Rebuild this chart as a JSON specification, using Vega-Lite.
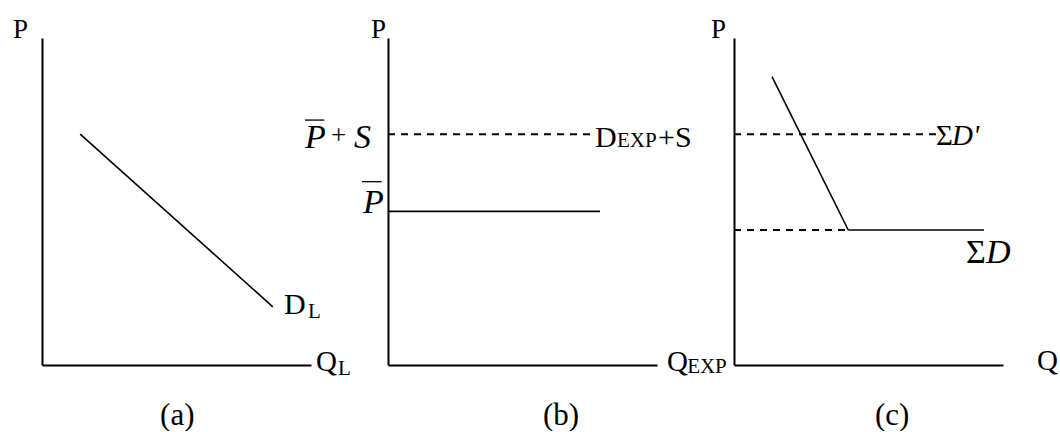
{
  "$schema": "https://vega.github.io/schema/vega-lite/v6.json",
  "background": "white",
  "padding": {"left": 12, "top": 16, "right": 0, "bottom": 0},
  "spacing": 77,
  "bounds": "flush",
  "config": {
    "view": {"stroke": null},
    "axis": {
      "labels": false,
      "ticks": false,
      "grid": false,
      "domainColor": "black",
      "domainWidth": 2,
      "minExtent": 0
    },
    "text": {"font": "Liberation Serif", "fill": "black", "align": "left", "baseline": "alphabetic"},
    "rule": {"color": "black"}
  },
  "datasets": {
    "curves": [
      {"panel": "a", "q": 1.42, "p": 7.06, "q2": 8.58, "p2": 1.78},
      {"panel": "b", "q": 0, "p": 4.7, "q2": 7.88, "p2": 4.7},
      {"panel": "c", "q": 1.413, "p": 8.817, "q2": 4.247, "p2": 4.128},
      {"panel": "c", "q": 4.247, "p": 4.128, "q2": 9.294, "p2": 4.128}
    ],
    "guides": [
      {"panel": "b", "q": 0, "p": 7.06, "q2": 7.55, "p2": 7.06},
      {"panel": "c", "q": 0, "p": 7.06, "q2": 7.51, "p2": 7.06},
      {"panel": "c", "q": 0, "p": 4.128, "q2": 4.247, "p2": 4.128}
    ],
    "bars": [
      {"panel": "b", "q": -3.086, "q2": -2.368, "p": 7.49},
      {"panel": "b", "q": -0.967, "q2": -0.235, "p": 5.606}
    ],
    "labels": [
      {"panel": "a", "q": -1.08, "p": 10, "text": "P", "role": "price"},
      {"panel": "a", "q": 10.19, "p": -0.18, "text": "Q", "role": "quantity"},
      {"panel": "a", "q": 11.0, "p": -0.31, "text": "L", "role": "subscript"},
      {"panel": "a", "q": 9.0, "p": 1.56, "text": "D", "role": "curve"},
      {"panel": "a", "q": 9.89, "p": 1.44, "text": "L", "role": "subscript"},
      {"panel": "a", "q": 4.39, "p": -1.82, "text": "(a)", "role": "caption"},
      {"panel": "b", "q": -0.632, "p": 10, "text": "P", "role": "price"},
      {"panel": "b", "q": 7.695, "p": 6.676, "text": "D", "role": "curve"},
      {"panel": "b", "q": 8.513, "p": 6.676, "text": "EXP", "role": "smallcap"},
      {"panel": "b", "q": 10.04, "p": 6.676, "text": "+S", "role": "curve"},
      {"panel": "b", "q": 10.37, "p": -0.18, "text": "Q", "role": "quantity"},
      {"panel": "b", "q": 11.12, "p": -0.245, "text": "EXP", "role": "smallcap"},
      {"panel": "b", "q": 5.76, "p": -1.82, "text": "(b)", "role": "caption"},
      {"panel": "b", "q": -2.12, "p": 6.75, "text": "+", "role": "operator"},
      {"panel": "c", "q": -0.855, "p": 10, "text": "P", "role": "price"},
      {"panel": "c", "q": 11.26, "p": -0.15, "text": "Q", "role": "quantity"},
      {"panel": "c", "q": 5.24, "p": -1.82, "text": "(c)", "role": "caption"},
      {"panel": "c", "q": 7.51, "p": 6.728, "text": "Σ", "role": "shifted"},
      {"panel": "c", "q": 8.625, "p": 3.11, "text": "Σ", "role": "sum"}
    ],
    "math": [
      {"panel": "b", "q": -3.09, "p": 6.636, "text": "P", "role": "level"},
      {"panel": "b", "q": -1.264, "p": 6.636, "text": "S", "role": "level"},
      {"panel": "b", "q": -0.929, "p": 4.648, "text": "P", "role": "level"},
      {"panel": "c", "q": 8.104, "p": 6.728, "text": "D'", "role": "shifted"},
      {"panel": "c", "q": 9.368, "p": 3.11, "text": "D", "role": "sum"}
    ]
  },
  "hconcat": [
    {
      "width": 269,
      "height": 327,
      "encoding": {
        "x": {"field": "q", "type": "quantitative", "scale": {"domain": [0, 10]}, "title": null},
        "y": {"field": "p", "type": "quantitative", "scale": {"domain": [0, 10]}, "title": null}
      },
      "layer": [
        {
          "data": {"name": "curves"},
          "transform": [{"filter": "datum.panel == 'a'"}],
          "mark": {"type": "rule", "strokeWidth": 1.6},
          "encoding": {"x2": {"field": "q2"}, "y2": {"field": "p2"}}
        },
        {
          "data": {"name": "labels"},
          "transform": [{"filter": "datum.panel == 'a' && datum.role == 'price'"}],
          "mark": {"type": "text", "fontSize": 27},
          "encoding": {"text": {"field": "text"}}
        },
        {
          "data": {"name": "labels"},
          "transform": [{"filter": "datum.panel == 'a' && datum.role == 'quantity'"}],
          "mark": {"type": "text", "fontSize": 29},
          "encoding": {"text": {"field": "text"}}
        },
        {
          "data": {"name": "labels"},
          "transform": [{"filter": "datum.panel == 'a' && datum.role == 'curve'"}],
          "mark": {"type": "text", "fontSize": 30},
          "encoding": {"text": {"field": "text"}}
        },
        {
          "data": {"name": "labels"},
          "transform": [{"filter": "datum.panel == 'a' && datum.role == 'subscript'"}],
          "mark": {"type": "text", "fontSize": 21},
          "encoding": {"text": {"field": "text"}}
        },
        {
          "data": {"name": "labels"},
          "transform": [{"filter": "datum.panel == 'a' && datum.role == 'caption'"}],
          "mark": {"type": "text", "fontSize": 31},
          "encoding": {"text": {"field": "text"}}
        }
      ]
    },
    {
      "width": 269,
      "height": 327,
      "encoding": {
        "x": {"field": "q", "type": "quantitative", "scale": {"domain": [0, 10]}, "title": null},
        "y": {"field": "p", "type": "quantitative", "scale": {"domain": [0, 10]}, "title": null}
      },
      "layer": [
        {
          "data": {"name": "curves"},
          "transform": [{"filter": "datum.panel == 'b'"}],
          "mark": {"type": "rule", "strokeWidth": 1.7},
          "encoding": {"x2": {"field": "q2"}, "y2": {"field": "p2"}}
        },
        {
          "data": {"name": "guides"},
          "transform": [{"filter": "datum.panel == 'b'"}],
          "mark": {"type": "rule", "strokeWidth": 2, "strokeDash": [7, 6]},
          "encoding": {"x2": {"field": "q2"}, "y2": {"field": "p2"}}
        },
        {
          "data": {"name": "bars"},
          "transform": [{"filter": "datum.panel == 'b'"}],
          "mark": {"type": "rule", "strokeWidth": 1.3},
          "encoding": {"x2": {"field": "q2"}}
        },
        {
          "data": {"name": "labels"},
          "transform": [{"filter": "datum.panel == 'b' && datum.role == 'price'"}],
          "mark": {"type": "text", "fontSize": 27},
          "encoding": {"text": {"field": "text"}}
        },
        {
          "data": {"name": "labels"},
          "transform": [{"filter": "datum.panel == 'b' && datum.role == 'quantity'"}],
          "mark": {"type": "text", "fontSize": 29},
          "encoding": {"text": {"field": "text"}}
        },
        {
          "data": {"name": "labels"},
          "transform": [{"filter": "datum.panel == 'b' && datum.role == 'curve'"}],
          "mark": {"type": "text", "fontSize": 30},
          "encoding": {"text": {"field": "text"}}
        },
        {
          "data": {"name": "labels"},
          "transform": [{"filter": "datum.panel == 'b' && datum.role == 'smallcap'"}],
          "mark": {"type": "text", "fontSize": 21},
          "encoding": {"text": {"field": "text"}}
        },
        {
          "data": {"name": "labels"},
          "transform": [{"filter": "datum.panel == 'b' && datum.role == 'operator'"}],
          "mark": {"type": "text", "fontSize": 27},
          "encoding": {"text": {"field": "text"}}
        },
        {
          "data": {"name": "labels"},
          "transform": [{"filter": "datum.panel == 'b' && datum.role == 'caption'"}],
          "mark": {"type": "text", "fontSize": 31},
          "encoding": {"text": {"field": "text"}}
        },
        {
          "data": {"name": "math"},
          "transform": [{"filter": "datum.panel == 'b'"}],
          "mark": {"type": "text", "fontSize": 34, "fontStyle": "italic"},
          "encoding": {"text": {"field": "text"}}
        }
      ]
    },
    {
      "width": 269,
      "height": 327,
      "encoding": {
        "x": {"field": "q", "type": "quantitative", "scale": {"domain": [0, 10]}, "title": null},
        "y": {"field": "p", "type": "quantitative", "scale": {"domain": [0, 10]}, "title": null}
      },
      "layer": [
        {
          "data": {"name": "curves"},
          "transform": [{"filter": "datum.panel == 'c'"}],
          "mark": {"type": "rule", "strokeWidth": 1.6},
          "encoding": {"x2": {"field": "q2"}, "y2": {"field": "p2"}}
        },
        {
          "data": {"name": "guides"},
          "transform": [{"filter": "datum.panel == 'c'"}],
          "mark": {"type": "rule", "strokeWidth": 2, "strokeDash": [7, 6]},
          "encoding": {"x2": {"field": "q2"}, "y2": {"field": "p2"}}
        },
        {
          "data": {"name": "labels"},
          "transform": [{"filter": "datum.panel == 'c' && datum.role == 'price'"}],
          "mark": {"type": "text", "fontSize": 27},
          "encoding": {"text": {"field": "text"}}
        },
        {
          "data": {"name": "labels"},
          "transform": [{"filter": "datum.panel == 'c' && datum.role == 'quantity'"}],
          "mark": {"type": "text", "fontSize": 29},
          "encoding": {"text": {"field": "text"}}
        },
        {
          "data": {"name": "labels"},
          "transform": [{"filter": "datum.panel == 'c' && datum.role == 'caption'"}],
          "mark": {"type": "text", "fontSize": 31},
          "encoding": {"text": {"field": "text"}}
        },
        {
          "data": {"name": "labels"},
          "transform": [{"filter": "datum.panel == 'c' && datum.role == 'shifted'"}],
          "mark": {"type": "text", "fontSize": 29},
          "encoding": {"text": {"field": "text"}}
        },
        {
          "data": {"name": "labels"},
          "transform": [{"filter": "datum.panel == 'c' && datum.role == 'sum'"}],
          "mark": {"type": "text", "fontSize": 34},
          "encoding": {"text": {"field": "text"}}
        },
        {
          "data": {"name": "math"},
          "transform": [{"filter": "datum.panel == 'c' && datum.role == 'shifted'"}],
          "mark": {"type": "text", "fontSize": 29, "fontStyle": "italic"},
          "encoding": {"text": {"field": "text"}}
        },
        {
          "data": {"name": "math"},
          "transform": [{"filter": "datum.panel == 'c' && datum.role == 'sum'"}],
          "mark": {"type": "text", "fontSize": 34, "fontStyle": "italic"},
          "encoding": {"text": {"field": "text"}}
        }
      ]
    }
  ]
}
